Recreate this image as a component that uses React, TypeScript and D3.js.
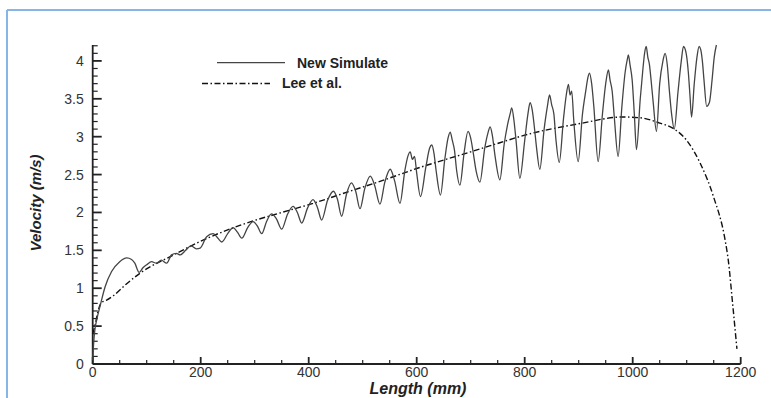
import React, { useRef, useEffect } from "react";
import * as d3 from "d3";

// New Simulate (solid) – length in mm, velocity in m/s
const simLength = [
  0, 2, 4, 8, 13.5, 23, 35, 50, 63, 72, 78, 86, 93, 100, 109, 118, 127, 137, 146, 155, 162, 172, 182, 192, 199,
  211, 223, 232, 239, 250, 260, 268, 276, 287, 297, 305, 313, 322, 331, 340, 350, 361, 371, 379, 387,
  398, 408, 416, 424, 435, 446, 453, 461, 470, 479, 487, 495, 504, 514, 522, 532, 541, 551, 559, 569,
  578, 584, 588, 592, 596, 600, 607, 617, 624, 628, 632, 636, 644, 652, 658, 662, 666, 670, 674, 680,
  688, 695, 700, 704, 710, 717, 726, 732, 736, 740, 745, 754, 762, 768, 773, 776, 780, 784, 791,
  800, 806, 810, 814, 818, 822, 828, 836, 842, 846, 850, 854, 858, 864, 872, 877, 881, 884, 887, 891, 899,
  907, 913, 917, 920, 924, 928, 936, 944, 950, 955, 958, 962, 966, 973, 980, 986, 990, 992, 995, 999, 1003, 1007,
  1014, 1019, 1022, 1025, 1028, 1031, 1034, 1038, 1044, 1050, 1056, 1060, 1064, 1068, 1072, 1077,
  1084, 1090, 1094, 1099, 1103, 1106, 1109, 1114, 1119, 1123, 1126, 1129, 1132, 1137, 1142, 1147, 1151, 1155,
];
const simVelocity = [
  0.05, 0.3, 0.45, 0.6, 0.76, 1.02, 1.22, 1.35, 1.4, 1.38, 1.33, 1.21, 1.27, 1.31, 1.35, 1.33, 1.37, 1.33, 1.44, 1.46, 1.44, 1.5, 1.56, 1.52, 1.53,
  1.68, 1.72, 1.66, 1.61, 1.72, 1.8, 1.74, 1.66, 1.8, 1.88, 1.82, 1.72, 1.88, 1.98, 1.92, 1.78, 1.98, 2.08, 2.0, 1.86,
  2.06, 2.17, 2.07, 1.9, 2.16, 2.28, 2.18, 1.95, 2.24, 2.39, 2.28, 2.05, 2.32, 2.48, 2.36, 2.11, 2.4, 2.57, 2.42, 2.12,
  2.55, 2.75, 2.8, 2.7, 2.74, 2.52, 2.21, 2.6, 2.85, 2.89, 2.78, 2.55, 2.23, 2.7, 2.98, 3.06, 2.95, 2.82, 2.55, 2.36,
  2.8, 3.07, 2.98, 2.82, 2.55, 2.4, 2.85, 3.05, 3.13, 3.02, 2.75, 2.43, 2.9, 3.15, 3.3, 3.38, 3.22, 2.95, 2.45,
  2.95, 3.3, 3.45, 3.35, 3.12, 2.85, 2.57, 3.1, 3.4, 3.55, 3.42, 3.3, 2.95, 2.66, 3.25, 3.55, 3.69, 3.55, 3.6, 3.2, 2.67,
  3.3, 3.6, 3.78, 3.84, 3.7, 3.4, 2.67, 3.3, 3.7, 3.88, 3.75, 3.6, 3.25, 2.74, 3.4, 3.85, 4.02, 4.08, 3.95, 3.75, 3.3, 2.83,
  3.5, 3.9, 4.1, 4.19, 4.05, 3.95, 3.75, 3.45, 3.07, 3.7, 4.0, 4.1, 3.95, 3.6, 3.3, 3.1,
  3.6, 4.0, 4.19, 4.1, 3.85, 3.55, 3.26, 3.7, 4.05, 4.19, 4.15, 4.0, 3.75, 3.4, 3.45, 3.75, 4.05, 4.21,
];

// Lee et al. (dash-dot)
const leeLength = [
  0, 4, 10, 16, 25, 38, 63, 88, 150, 200, 285, 350, 408, 476, 532, 600, 700, 754, 800, 900,
  982, 1013, 1050, 1075, 1100, 1125, 1150, 1171, 1177, 1185, 1193,
];
const leeVelocity = [
  0.4, 0.5, 0.7, 0.81, 0.84, 0.9, 1.06, 1.2, 1.44, 1.62, 1.86, 2.0, 2.12, 2.28, 2.41, 2.58, 2.8, 2.92, 3.02, 3.17,
  3.26, 3.25, 3.18, 3.11, 2.95, 2.65, 2.2, 1.64, 1.37, 0.8, 0.2,
];

const xMajor = [0, 200, 400, 600, 800, 1000, 1200];
const yMajor = [0, 0.5, 1, 1.5, 2, 2.5, 3, 3.5, 4];

const FONT = "'Liberation Sans', Arial, Helvetica, sans-serif";

export default function App() {
  const svgRef = useRef<SVGSVGElement | null>(null);

  useEffect(() => {
    const width = 771;
    const height = 398;
    const svg = d3.select(svgRef.current).attr("width", width).attr("height", height);
    svg.selectAll("*").remove();

    const x = d3.scaleLinear().domain([0, 1200]).range([92.7, 740.7]);
    const y = d3.scaleLinear().domain([0, 4.21]).range([364, 45]);

    // blue frame
    svg.append("line").attr("x1", 7).attr("x2", width).attr("y1", 10).attr("y2", 10)
      .attr("stroke", "#86b5e6").attr("stroke-width", 2);
    svg.append("line").attr("x1", 7).attr("x2", 7).attr("y1", 10).attr("y2", height)
      .attr("stroke", "#86b5e6").attr("stroke-width", 2);

    // x axis
    const xAxis = svg.append("g").attr("transform", `translate(0,${y(0)})`);
    xAxis.append("line").attr("x1", x(0)).attr("x2", x(1200)).attr("stroke", "#222").attr("stroke-width", 1.8);
    xAxis.selectAll("line.minor")
      .data(d3.range(0, 1201, 50).filter((v) => v % 200 !== 0))
      .enter().append("line")
      .attr("x1", (d) => x(d)).attr("x2", (d) => x(d))
      .attr("y1", 0).attr("y2", -4)
      .attr("stroke", "#222").attr("stroke-width", 1.2);
    xAxis.selectAll("line.major")
      .data(xMajor)
      .enter().append("line")
      .attr("x1", (d) => x(d)).attr("x2", (d) => x(d))
      .attr("y1", 0).attr("y2", -7)
      .attr("stroke", "#222").attr("stroke-width", 1.8);
    xAxis.selectAll("text")
      .data(xMajor)
      .enter().append("text")
      .attr("x", (d) => x(d)).attr("y", 13)
      .attr("text-anchor", "middle")
      .style("font-family", FONT).style("font-size", "14px").attr("fill", "#333")
      .text((d) => d);

    // y axis
    const yAxis = svg.append("g").attr("transform", `translate(${x(0)},0)`);
    yAxis.append("line").attr("y1", y(0)).attr("y2", y(4.21)).attr("stroke", "#222").attr("stroke-width", 1.8);
    yAxis.selectAll("line.minor")
      .data(d3.range(1, 43).map((i) => i / 10).filter((v) => Math.round(v * 10) % 5 !== 0))
      .enter().append("line")
      .attr("y1", (d) => y(d)).attr("y2", (d) => y(d))
      .attr("x1", 0).attr("x2", 5)
      .attr("stroke", "#222").attr("stroke-width", 1.2);
    yAxis.selectAll("line.major")
      .data(yMajor)
      .enter().append("line")
      .attr("y1", (d) => y(d)).attr("y2", (d) => y(d))
      .attr("x1", 0).attr("x2", 9)
      .attr("stroke", "#222").attr("stroke-width", 1.8);
    yAxis.selectAll("text")
      .data(yMajor)
      .enter().append("text")
      .attr("x", -9).attr("y", (d) => y(d) + 5)
      .attr("text-anchor", "end")
      .style("font-family", FONT).style("font-size", "14px").attr("fill", "#333")
      .text((d) => d);

    // curves
    const simData = simLength.map((l, i) => [l, simVelocity[i]] as [number, number]);
    const leeData = leeLength.map((l, i) => [l, leeVelocity[i]] as [number, number]);
    const line = d3.line<[number, number]>()
      .x((d) => x(d[0]))
      .y((d) => y(d[1]))
      .curve(d3.curveMonotoneX);

    svg.append("path").attr("d", line(leeData)).attr("fill", "none")
      .attr("stroke", "#111").attr("stroke-width", 1.4).attr("stroke-dasharray", "6,2.5,1.5,2.5");
    svg.append("path").attr("d", line(simData)).attr("fill", "none")
      .attr("stroke", "#444").attr("stroke-width", 1.3);

    // legend
    svg.append("line").attr("x1", 217).attr("x2", 285).attr("y1", 62.7).attr("y2", 62.7)
      .attr("stroke", "#444").attr("stroke-width", 1.3);
    svg.append("text").attr("x", 297).attr("y", 67.5)
      .style("font-family", FONT).style("font-size", "14px").style("font-weight", "bold").attr("fill", "#222")
      .text("New Simulate");
    svg.append("line").attr("x1", 202).attr("x2", 270).attr("y1", 83.5).attr("y2", 83.5)
      .attr("stroke", "#111").attr("stroke-width", 1.4).attr("stroke-dasharray", "6,2.5,1.5,2.5");
    svg.append("text").attr("x", 282).attr("y", 88.3)
      .style("font-family", FONT).style("font-size", "14px").style("font-weight", "bold").attr("fill", "#222")
      .text("Lee et al.");

    // axis titles
    svg.append("text").attr("x", 418).attr("y", 394)
      .attr("text-anchor", "middle")
      .style("font-family", FONT).style("font-size", "16px").style("font-weight", "bold").style("font-style", "italic")
      .attr("fill", "#222")
      .text("Length (mm)");
    svg.append("text")
      .attr("transform", `translate(41,203) rotate(-90)`)
      .attr("text-anchor", "middle")
      .style("font-family", FONT).style("font-size", "15px").style("font-weight", "bold").style("font-style", "italic")
      .attr("fill", "#222")
      .text("Velocity (m/s)");
  }, []);

  return <svg ref={svgRef} style={{ position: "absolute", left: 0, top: 0, background: "#fff" }}></svg>;
}
